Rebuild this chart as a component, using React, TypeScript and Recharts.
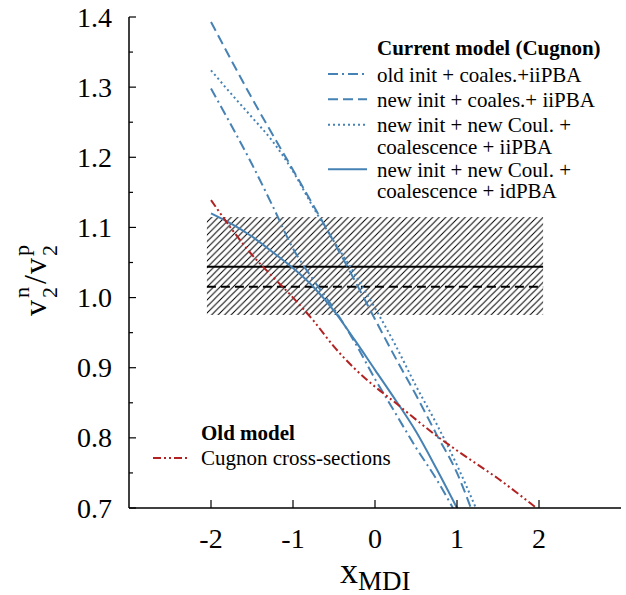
import React from 'react';
import { LineChart, Line, XAxis, YAxis, ReferenceArea, ReferenceLine, Customized } from 'recharts';

const W = 626;
const H = 595;
const FONT = 'Liberation Serif';
const BLUE = '#4682b4';
const RED = '#b22222';

// ---- axis ticks ----
const xTicks = [-2, -1, 0, 1, 2];
const yTicks = [0.7, 0.75, 0.8, 0.85, 0.9, 0.95, 1.0, 1.05, 1.1, 1.15, 1.2, 1.25, 1.3, 1.35, 1.4];

// ---- series data ----
const oldInitX = [-2, -1.75, -1.5, -1.25, -1, -0.75, -0.5, -0.25, 0, 0.25, 0.5, 0.75, 0.95];
const oldInitY = [1.298, 1.245, 1.19, 1.131, 1.07, 1.025, 0.984, 0.937, 0.884, 0.835, 0.786, 0.741, 0.7];

const newInitX = [-2, -1.5, -1, -0.5, -0.25, 0, 0.25, 0.5, 0.75, 1, 1.17];
const newInitY = [1.393, 1.284, 1.182, 1.079, 1.025, 0.969, 0.914, 0.861, 0.805, 0.75, 0.7];

const newCoulX = [-2, -1.75, -1.5, -1.25, -1, -0.75, -0.5, -0.25, 0, 0.25, 0.5, 0.75, 1, 1.23];
const newCoulY = [1.324, 1.29, 1.257, 1.223, 1.18, 1.128, 1.08, 1.034, 0.985, 0.932, 0.874, 0.82, 0.761, 0.7];

const idPbaX = [-2, -1.75, -1.5, -1.25, -1, -0.75, -0.5, -0.25, 0, 0.25, 0.5, 0.75, 1.0];
const idPbaY = [1.12, 1.105, 1.087, 1.065, 1.042, 1.015, 0.981, 0.94, 0.897, 0.854, 0.809, 0.756, 0.7];

const cugnonX = [-2, -1.75, -1.5, -1.25, -1, -0.75, -0.5, -0.25, 0, 0.25, 0.5, 0.75, 1, 1.25, 1.5, 1.75, 1.97];
const cugnonY = [1.139, 1.098, 1.061, 1.03, 1.0, 0.967, 0.93, 0.899, 0.873, 0.85, 0.826, 0.803, 0.782, 0.762, 0.742, 0.72, 0.7];

// ---- experimental band ----
const bandX = [-2.05, 2.05];
const bandY = [0.975, 1.115];
const expSolidY = 1.044;
const expDashedY = 1.0155;

// ---- legend texts ----
const currentTitle = 'Current model (Cugnon)';
const oldTitle = 'Old model';
const seriesNames = [
  'old init + coales.+iiPBA',
  'new init + coales.+ iiPBA',
  'new init + new Coul. +\ncoalescence + iiPBA',
  'new init + new Coul. +\ncoalescence + idPBA',
  'Cugnon cross-sections',
];

const toData = (xs: number[], ys: number[]) => xs.map((x, i) => ({ x, y: ys[i] }));

const series = [
  { name: seriesNames[0], data: toData(oldInitX, oldInitY), color: BLUE, dash: '10 4 2 4' },
  { name: seriesNames[1], data: toData(newInitX, newInitY), color: BLUE, dash: '10 5' },
  { name: seriesNames[2], data: toData(newCoulX, newCoulY), color: BLUE, dash: '2 3' },
  { name: seriesNames[3], data: toData(idPbaX, idPbaY), color: BLUE, dash: undefined },
  { name: seriesNames[4], data: toData(cugnonX, cugnonY), color: RED, dash: '8 3 2 3 2 3' },
];

const isMajor = (v: number) => Math.abs(v * 10 - Math.round(v * 10)) < 1e-6;
const txtStyle = { fontFamily: FONT };

const LeftYTick = (props: any) => {
  const { x, y, payload } = props;
  const v = payload.value as number;
  const major = isMajor(v);
  return (
    <g>
      <line x1={x} x2={x + (major ? 7 : 4)} y1={y} y2={y} stroke="#000" strokeWidth={1.2} />
      {major && (
        <text x={x - 17} y={y + 9.5} textAnchor="end" fontSize={28} style={txtStyle} fill="#000">
          {v.toFixed(1)}
        </text>
      )}
    </g>
  );
};

const RightYTick = (props: any) => {
  const { x, y, payload } = props;
  const major = isMajor(payload.value as number);
  return <line x1={x} x2={x - (major ? 7 : 4)} y1={y} y2={y} stroke="#000" strokeWidth={1.2} />;
};

const BottomXTick = (props: any) => {
  const { x, y, payload } = props;
  return (
    <g>
      <line x1={x} x2={x} y1={y} y2={y - 8} stroke="#000" strokeWidth={1.2} />
      <text x={x} y={y + 40} textAnchor="middle" fontSize={28} style={txtStyle} fill="#000">
        {String(payload.value)}
      </text>
    </g>
  );
};

const TopXTick = (props: any) => {
  const { x, y } = props;
  return <line x1={x} x2={x} y1={y} y2={y + 8} stroke="#000" strokeWidth={1.2} />;
};

const Overlay = () => {
  const cur = series.slice(0, 4);
  const baselines = [81.5, 106.7, 132.3, 176.7];
  return (
    <g style={txtStyle} fill="#000">
      <defs>
        <pattern id="hatch" patternUnits="userSpaceOnUse" width="6.5" height="6.5">
          <path d="M0,6.5 L6.5,0 M-1.5,1.5 L1.5,-1.5 M5,8 L8,5" stroke="#000" strokeWidth="1" />
        </pattern>
      </defs>
      <text x={377} y={55} fontSize={21} fontWeight="bold" style={txtStyle}>{currentTitle}</text>
      {cur.map((s, i) => {
        const lines = s.name.split('\n');
        const b = baselines[i];
        return (
          <g key={i}>
            <line x1={328} x2={367} y1={b - 7.5} y2={b - 7.5} stroke={s.color} strokeWidth={2} strokeDasharray={s.dash} />
            {lines.map((t, j) => (
              <text key={j} x={377} y={b + j * 21.7} fontSize={21} style={txtStyle}>{t}</text>
            ))}
          </g>
        );
      })}
      <text x={201} y={440} fontSize={21} fontWeight="bold" style={txtStyle}>{oldTitle}</text>
      <line x1={153} x2={188} y1={458} y2={458} stroke={series[4].color} strokeWidth={2} strokeDasharray={series[4].dash} />
      <text x={201} y={465} fontSize={21} style={txtStyle}>{series[4].name}</text>
      <text x={340} y={583} style={txtStyle}>
        <tspan fontSize={36}>x</tspan>
        <tspan fontSize={27} dy={7}>MDI</tspan>
      </text>
      <text transform="translate(46,316) rotate(-90)" x={0} y={0} style={txtStyle}>
        <tspan fontSize={32}>v</tspan>
        <tspan fontSize={22} dx={2} dy={11}>2</tspan>
        <tspan fontSize={22} dx={-11} dy={-28}>n</tspan>
        <tspan fontSize={32} dx={3} dy={17}>/</tspan>
        <tspan fontSize={32} dx={1}>v</tspan>
        <tspan fontSize={22} dx={2} dy={11}>2</tspan>
        <tspan fontSize={22} dx={-11} dy={-28}>p</tspan>
      </text>
    </g>
  );
};

export default function App() {
  return (
    <div style={{ position: 'absolute', left: 0, top: 0, width: W, height: H, background: '#fff' }}>
      <LineChart width={W} height={H} margin={{ top: 17, right: 5, bottom: 0, left: 0 }}>
        <XAxis
          xAxisId={0}
          type="number"
          dataKey="x"
          domain={[-3, 3]}
          ticks={xTicks}
          interval={0}
          allowDataOverflow
          orientation="bottom"
          height={87}
          tickSize={0}
          tickMargin={0}
          tickLine={false}
          tick={<BottomXTick />}
          axisLine={{ stroke: '#000', strokeWidth: 1.5 }}
        />
        <XAxis
          xAxisId="top"
          type="number"
          dataKey="x"
          domain={[-3, 3]}
          ticks={xTicks}
          interval={0}
          allowDataOverflow
          orientation="top"
          height={0}
          tickSize={0}
          tickMargin={0}
          tickLine={false}
          tick={<TopXTick />}
          axisLine={{ stroke: '#000', strokeWidth: 1.5 }}
        />
        <YAxis
          yAxisId={0}
          type="number"
          domain={[0.7, 1.4]}
          ticks={yTicks}
          interval={0}
          allowDataOverflow
          orientation="left"
          width={129}
          tickSize={0}
          tickMargin={0}
          tickLine={false}
          tick={<LeftYTick />}
          axisLine={{ stroke: '#000', strokeWidth: 1.5 }}
        />
        <YAxis
          yAxisId="right"
          type="number"
          domain={[0.7, 1.4]}
          ticks={yTicks}
          interval={0}
          allowDataOverflow
          orientation="right"
          width={0}
          tickSize={0}
          tickMargin={0}
          tickLine={false}
          tick={<RightYTick />}
          axisLine={{ stroke: '#000', strokeWidth: 1.5 }}
        />
        <ReferenceArea
          x1={bandX[0]}
          x2={bandX[1]}
          y1={bandY[0]}
          y2={bandY[1]}
          fill="url(#hatch)"
          fillOpacity={1}
          stroke="none"
          ifOverflow="visible"
        />
        <ReferenceLine
          segment={[{ x: bandX[0], y: expSolidY }, { x: bandX[1], y: expSolidY }]}
          stroke="#000"
          strokeWidth={2}
        />
        <ReferenceLine
          segment={[{ x: bandX[0], y: expDashedY }, { x: bandX[1], y: expDashedY }]}
          stroke="#000"
          strokeWidth={2}
          strokeDasharray="9 5"
        />
        {series.map((s, i) => (
          <Line
            key={i}
            data={s.data}
            dataKey="y"
            name={s.name}
            type="monotone"
            stroke={s.color}
            strokeWidth={2}
            strokeDasharray={s.dash}
            dot={false}
            activeDot={false}
            isAnimationActive={false}
          />
        ))}
        <Customized component={Overlay} />
      </LineChart>
    </div>
  );
}
